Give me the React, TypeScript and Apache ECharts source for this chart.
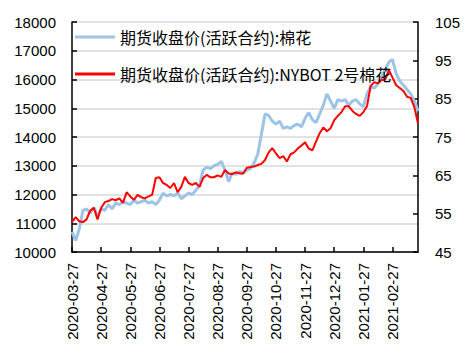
import React, { useEffect, useRef } from "react";
import * as echarts from "echarts";

const tickLabels = [
  "2020-03-27", "2020-04-27", "2020-05-27", "2020-06-27", "2020-07-27", "2020-08-27",
  "2020-09-27", "2020-10-27", "2020-11-27", "2020-12-27", "2021-01-27", "2021-02-27",
];
const POINTS_PER_MONTH = 8;

const seriesNames = ["期货收盘价(活跃合约):棉花", "期货收盘价(活跃合约):NYBOT 2号棉花"];

// 郑棉 (left axis)
const czceCotton = [
  10700, 10400, 10800, 11450, 11500, 11350, 11550, 11250,
  11500, 11450, 11650, 11500, 11700, 11650, 11750, 11700,
  11650, 11800, 11700, 11750, 11800, 11700, 11750, 11650,
  11800, 12050, 11950, 12000, 11950, 12050, 11850, 11950,
  12050, 12000, 12150, 12300, 12850, 12950, 12900, 13000,
  13050, 13150, 12850, 12450, 12750, 12700, 12800, 12750,
  12850, 12900, 13100, 13400, 14100, 14800, 14750, 14550,
  14450, 14550, 14300, 14350, 14300, 14400, 14450, 14350,
  14650, 14850, 14600, 14500, 14800, 15100, 15500, 15250,
  15000, 15300, 15250, 15300, 15100, 15250, 15300, 15150,
  15050, 15500, 15750, 15700, 15850, 16100, 16350, 16600,
  16700, 16200, 15950, 15800, 15650, 15500, 15250, 14900,
];

// NYBOT 2号棉花 (right axis)
const nybotCotton = [
  52.8, 54.1, 53.0, 52.8, 53.5, 55.8, 56.5, 53.5,
  56.5, 58.0, 58.3, 58.8, 58.5, 59.0, 57.8, 60.6,
  59.5, 58.6, 59.9, 59.3, 59.0, 59.5, 59.9, 64.3,
  64.5, 63.0, 62.5, 61.7, 63.0, 60.6, 62.0, 64.6,
  63.0, 62.5, 63.0, 62.0, 64.3, 65.1, 64.5, 64.5,
  65.0, 64.6, 66.4, 65.5, 65.3, 65.8, 65.5, 65.5,
  67.0, 67.2, 67.3, 67.7, 68.0, 69.0, 71.0, 72.1,
  70.7, 69.5, 70.0, 68.6, 70.5, 71.0, 72.0, 72.8,
  73.6, 72.0, 71.5, 73.8, 76.0, 77.5, 76.5, 77.3,
  79.4, 80.5, 81.5, 83.0, 83.0, 81.8, 81.0, 80.5,
  81.5, 83.0, 88.3, 89.3, 89.0, 89.9, 90.0, 92.5,
  90.5, 88.5, 87.8, 87.0, 85.5, 85.2, 82.8, 78.5,
];

const leftTicks = { min: 10000, max: 18000, interval: 1000 };
const rightTicks = { min: 45, max: 105, interval: 10 };

const categories = czceCotton.map((_, i) => String(i));

const FONT = "'Liberation Sans', Arial, sans-serif";
const CJK = "'Noto Sans CJK SC', sans-serif";

export default function App() {
  const ref = useRef<HTMLDivElement>(null);
  useEffect(() => {
    if (!ref.current) return;
    const chart = echarts.init(ref.current, undefined, { renderer: "svg" });
    const axisLineStyle = { color: "#000", width: 1.5 };
    chart.setOption({
      animation: false,
      backgroundColor: "#fff",
      grid: { left: 72, right: 55, top: 22, bottom: 102, containLabel: false },
      legend: {
        orient: "vertical",
        left: 70,
        top: 24,
        itemWidth: 40,
        itemHeight: 3,
        itemGap: 21,
        icon: "rect",
        textStyle: { fontFamily: CJK, fontSize: 16, color: "#000" },
        data: seriesNames,
      },
      xAxis: {
        type: "category",
        data: categories,
        boundaryGap: false,
        axisLine: { lineStyle: axisLineStyle },
        axisTick: {
          inside: true,
          length: 5,
          interval: POINTS_PER_MONTH - 1,
          lineStyle: { color: "#000", width: 1.5 },
        },
        axisLabel: {
          interval: POINTS_PER_MONTH - 1,
          rotate: 90,
          margin: 11,
          fontFamily: FONT,
          fontSize: 15,
          color: "#000",
          formatter: (_v: string, idx: number) =>
            idx % POINTS_PER_MONTH === 0 ? tickLabels[idx / POINTS_PER_MONTH] ?? "" : "",
        },
        splitLine: { show: false },
      },
      yAxis: [
        {
          type: "value",
          ...leftTicks,
          axisLine: { show: true, lineStyle: axisLineStyle },
          axisTick: { show: true, inside: true, length: 5, lineStyle: { color: "#000", width: 1.5 } },
          axisLabel: {
            margin: 16,
            fontFamily: FONT,
            fontSize: 15,
            color: "#000",
            formatter: (v: number) => String(v),
          },
          splitLine: { show: true, lineStyle: { color: "#d9d9d9", width: 1.5 } },
        },
        {
          type: "value",
          position: "right",
          ...rightTicks,
          axisLine: { show: true, lineStyle: axisLineStyle },
          axisTick: { show: true, inside: true, length: 5, lineStyle: { color: "#000", width: 1.5 } },
          axisLabel: {
            margin: 17,
            fontFamily: FONT,
            fontSize: 15,
            color: "#000",
            formatter: (v: number) => String(v),
          },
          splitLine: { show: false },
        },
      ],
      series: [
        {
          name: seriesNames[0],
          type: "line",
          yAxisIndex: 0,
          data: czceCotton,
          showSymbol: false,
          lineStyle: { color: "#9dc3e6", width: 3 },
          itemStyle: { color: "#9dc3e6" },
          z: 2,
        },
        {
          name: seriesNames[1],
          type: "line",
          yAxisIndex: 1,
          data: nybotCotton,
          showSymbol: false,
          lineStyle: { color: "#ff0000", width: 2 },
          itemStyle: { color: "#ff0000" },
          z: 3,
        },
      ],
    });
    return () => chart.dispose();
  }, []);
  return <div ref={ref} style={{ width: 473, height: 354, position: "absolute", left: 0, top: 0 }} />;
}
